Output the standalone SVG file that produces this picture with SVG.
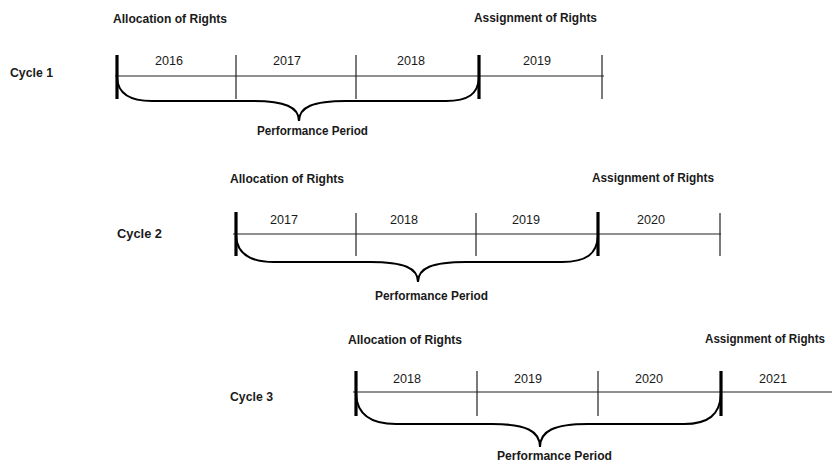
<svg xmlns="http://www.w3.org/2000/svg" width="832" height="463" viewBox="0 0 832 463">
<style>
.bg{fill:#ffffff}
.hd{font-family:"Liberation Sans",Arial,sans-serif;font-weight:bold;font-size:12.3px;fill:#1a1a1a}
.cy{font-family:"Liberation Sans",Arial,sans-serif;font-weight:bold;font-size:12.8px;fill:#1a1a1a}
.yr{font-family:"Liberation Sans",Arial,sans-serif;font-size:12.5px;fill:#1a1a1a}
.pp{font-family:"Liberation Sans",Arial,sans-serif;font-weight:bold;font-size:12.3px;fill:#1a1a1a}
.axis{stroke:#222;stroke-width:1.2;fill:none}
.tick{stroke:#222;stroke-width:1.2;fill:none}
.bar{stroke:#000;stroke-width:3.2;fill:none}
.brace{stroke:#000;stroke-width:2;fill:none}
</style>
<rect class="bg" x="0" y="0" width="832" height="463"/>

<g id="cycle1">
  <text class="hd" x="113" y="23" textLength="114" lengthAdjust="spacingAndGlyphs">Allocation of Rights</text>
  <text class="hd" x="474" y="22" textLength="123" lengthAdjust="spacingAndGlyphs">Assignment of Rights</text>
  <text class="cy" x="10" y="77" textLength="43" lengthAdjust="spacingAndGlyphs">Cycle 1</text>
  <text class="yr" x="155" y="65" textLength="28" lengthAdjust="spacingAndGlyphs">2016</text>
  <text class="yr" x="273" y="65" textLength="28" lengthAdjust="spacingAndGlyphs">2017</text>
  <text class="yr" x="397" y="65" textLength="28" lengthAdjust="spacingAndGlyphs">2018</text>
  <text class="yr" x="523" y="65" textLength="28" lengthAdjust="spacingAndGlyphs">2019</text>
  <text class="pp" x="257" y="135" textLength="111" lengthAdjust="spacingAndGlyphs">Performance Period</text>
</g>

<g id="cycle2">
  <text class="hd" x="230" y="183" textLength="114" lengthAdjust="spacingAndGlyphs">Allocation of Rights</text>
  <text class="hd" x="592" y="182" textLength="122" lengthAdjust="spacingAndGlyphs">Assignment of Rights</text>
  <text class="cy" x="117" y="238" textLength="45" lengthAdjust="spacingAndGlyphs">Cycle 2</text>
  <text class="yr" x="270" y="224" textLength="28" lengthAdjust="spacingAndGlyphs">2017</text>
  <text class="yr" x="390" y="224" textLength="28" lengthAdjust="spacingAndGlyphs">2018</text>
  <text class="yr" x="512" y="224" textLength="28" lengthAdjust="spacingAndGlyphs">2019</text>
  <text class="yr" x="637" y="224" textLength="28" lengthAdjust="spacingAndGlyphs">2020</text>
  <text class="pp" x="375" y="300" textLength="113" lengthAdjust="spacingAndGlyphs">Performance Period</text>
</g>

<g id="cycle3">
  <text class="hd" x="348" y="344" textLength="114" lengthAdjust="spacingAndGlyphs">Allocation of Rights</text>
  <text class="hd" x="705" y="343" textLength="120" lengthAdjust="spacingAndGlyphs">Assignment of Rights</text>
  <text class="cy" x="230" y="401" textLength="43" lengthAdjust="spacingAndGlyphs">Cycle 3</text>
  <text class="yr" x="393" y="383" textLength="28" lengthAdjust="spacingAndGlyphs">2018</text>
  <text class="yr" x="514" y="383" textLength="28" lengthAdjust="spacingAndGlyphs">2019</text>
  <text class="yr" x="635" y="383" textLength="28" lengthAdjust="spacingAndGlyphs">2020</text>
  <text class="yr" x="759" y="383" textLength="28" lengthAdjust="spacingAndGlyphs">2021</text>
  <text class="pp" x="497" y="460" textLength="115" lengthAdjust="spacingAndGlyphs">Performance Period</text>
</g>

<g id="connectors">
  <!-- cycle 1 -->
  <line class="axis" x1="115" y1="76" x2="604" y2="76"/>
  <line class="tick" x1="236" y1="55" x2="236" y2="99"/>
  <line class="tick" x1="356" y1="55" x2="356" y2="99"/>
  <line class="tick" x1="602" y1="55" x2="602" y2="99"/>
  <line class="bar" x1="117" y1="55" x2="117" y2="99"/>
  <line class="bar" x1="479" y1="55" x2="479" y2="99"/>
  <path class="brace" d="M117,78 C118,94 130,101 152,101 L252,101 C285,101 299,107 299,121 C299,107 313,101 346,101 L446,101 C468,101 478,94 479,78"/>

  <!-- cycle 2 -->
  <line class="axis" x1="233" y1="234" x2="721" y2="234"/>
  <line class="tick" x1="356" y1="213" x2="356" y2="256"/>
  <line class="tick" x1="476" y1="213" x2="476" y2="256"/>
  <line class="tick" x1="720" y1="213" x2="720" y2="256"/>
  <line class="bar" x1="236" y1="212" x2="236" y2="256"/>
  <line class="bar" x1="598" y1="212" x2="598" y2="256"/>
  <path class="brace" d="M236,236 C237,254 250,262 274,262 L370,262 C404,262 418,268 418,282 C418,268 432,262 466,262 L562,262 C586,262 597,254 598,236"/>

  <!-- cycle 3 -->
  <line class="axis" x1="353" y1="392" x2="832" y2="392"/>
  <line class="tick" x1="477" y1="371" x2="477" y2="416"/>
  <line class="tick" x1="598" y1="371" x2="598" y2="416"/>
  <line class="bar" x1="356" y1="371" x2="356" y2="416"/>
  <line class="bar" x1="721" y1="371" x2="721" y2="416"/>
  <path class="brace" d="M356,394 C357,415 372,424 396,424 L492,424 C526,424 540,431 540,447 C540,431 554,424 588,424 L684,424 C708,424 720,415 721,394"/>
</g>
</svg>
